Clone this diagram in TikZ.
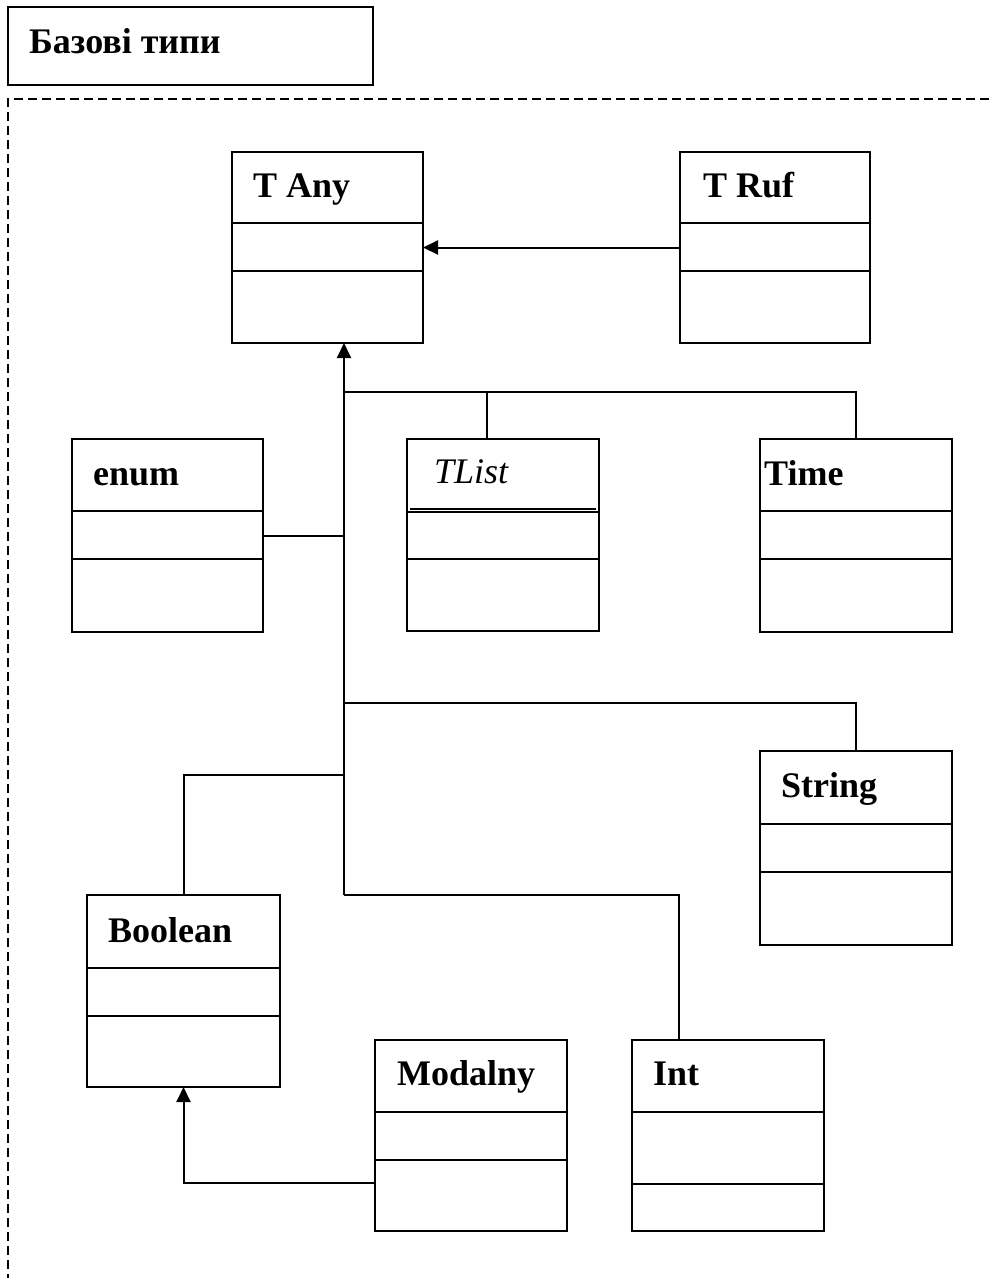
\documentclass[tikz,border=0pt]{standalone}
\usepackage{fontspec}
\setmainfont{Liberation Serif}
\usetikzlibrary{arrows.meta}
% class box: name, x, y, width, height, first divider, second divider
\newcommand\classbox[7]{%
  \node[cls, minimum width=#4pt, minimum height=#5pt, anchor=north west] (#1) at (#2,#3) {};
  \draw[ln] ([yshift=-#6pt]#1.north west) -- ([yshift=-#6pt]#1.north east);
  \draw[ln] ([yshift=-#7pt]#1.north west) -- ([yshift=-#7pt]#1.north east);
}
\begin{document}
\begin{tikzpicture}[x=1pt,y=-1pt,
  ln/.style={line width=2pt, black},
  cls/.style={draw, line width=2pt, rectangle, inner sep=0pt, outer sep=0pt},
  lbl/.style={font=\fontsize{36}{40}\selectfont\bfseries, inner sep=0pt, anchor=base west},
  arr/.style={ln, -{Triangle[length=15pt,width=14pt]}},
  dashframe/.style={line width=2pt, dash pattern=on 9pt off 5pt}]
\useasboundingbox (0,0) rectangle (989,1278);

% package header
\node[cls, minimum width=365pt, minimum height=78pt, anchor=north west] (title) at (8,7) {};
\node[lbl] (titletext) at (29,53) {Базові типи};

% package frame
\draw[dashframe] (989,99) -- (8,99) -- (8,1278);

% classes
\classbox{tany}{232}{152}{191}{191}{71}{119}
\classbox{truf}{680}{152}{190}{191}{71}{119}
\classbox{enum}{72}{439}{191}{193}{72}{120}
\classbox{tlist}{407}{439}{192}{192}{73}{120}
\draw[ln] ([xshift=3pt,yshift=-70pt]tlist.north west) -- ([xshift=-3pt,yshift=-70pt]tlist.north east);
\classbox{time}{760}{439}{192}{193}{72}{120}
\classbox{string}{760}{751}{192}{194}{73}{121}
\classbox{boolean}{87}{895}{193}{192}{73}{121}
\classbox{modalny}{375}{1040}{192}{191}{72}{120}
\classbox{int}{632}{1040}{192}{191}{72}{144}

% class names
\node[lbl] (tanyname) at (253,197) {T Any};
\node[lbl] (trufname) at (703,197) {T Ruf};
\node[lbl] (enumname) at (93,485) {enum};
\node[lbl, font=\fontsize{36}{40}\selectfont\itshape] (tlistname) at (434,483) {TList};
\node[lbl] (timename) at (764,485) {Time};
\node[lbl] (stringname) at (781,797) {String};
\node[lbl] (booleanname) at (108,942) {Boolean};
\node[lbl] (modalnyname) at (397,1085) {Modalny};
\node[lbl] (intname) at (653,1085) {Int};

% junction points of the inheritance tree
\coordinate (j1) at (344,392);
\coordinate (jl) at (487,392);
\coordinate (j2) at (344,703);
\coordinate (j3) at (344,775);
\coordinate (j4) at (344,895);
\coordinate (ji) at (679,895);
\coordinate (jm) at (375,1183);

% generalisations
\draw[arr] (truf.west) -- (tany.east);
\draw[arr] (j4) -- (j4 |- tany.south);
\draw[ln] (j1) -| (time.north);
\draw[ln] (jl) -- (jl |- tlist.north);
\draw[ln] (enum.east) -- (enum.east -| j1);
\draw[ln] (j2) -| (string.north);
\draw[ln] (j3) -| (boolean.north);
\draw[ln] (j4) -- (ji) -- (ji |- int.north);
\draw[arr] (modalny.west |- jm) -| (boolean.south);
\end{tikzpicture}
\end{document}
